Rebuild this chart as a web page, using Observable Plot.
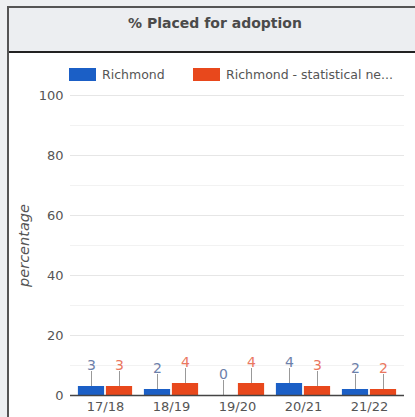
<!DOCTYPE html>
<html>
<head>
<meta charset="utf-8">
<script src="https://cdn.jsdelivr.net/npm/d3@7"></script>
<script src="https://cdn.jsdelivr.net/npm/@observablehq/plot@0.6"></script>
<style>
  html, body { margin: 0; padding: 0; width: 415px; height: 417px; overflow: hidden; background: #eef0f2; font-family: "DejaVu Sans", sans-serif; }
  #panel { position: absolute; left: 7px; top: 6px; width: 420px; height: 420px; border-left: 2px solid #555; border-top: 2px solid #555; background: #fff; }
  #title { height: 43px; background: #eceef1; border-bottom: 2px solid #222; text-align: center; line-height: 31px; font-weight: 700; font-size: 14px; color: #4a4a4a; padding-right: 8px; }
  #legend { position: absolute; left: 0; top: 67px; height: 16px; width: 410px; }
  .item { position: absolute; top: 0; display: flex; align-items: center; font-size: 12.5px; color: #555; white-space: nowrap; }
  .sw { width: 27px; height: 13px; margin-right: 6px; flex: none; }
  #chart { position: absolute; left: 9px; top: 88px; }
  #chart svg [aria-label="y-axis label"] text { font-style: italic; font-size: 14.5px; }
</style>
</head>
<body>
<div id="panel"><div id="title"></div></div>
<div id="legend"></div>
<div id="chart"></div>
<script>
const title = "% Placed for adoption";
const years = ["17/18", "18/19", "19/20", "20/21", "21/22"];
const seriesNames = ["Richmond", "Richmond - statistical neighbours"];
const richmond = [3, 2, 0, 4, 2];
const statNeighbours = [3, 4, 4, 3, 2];
const yTicks = [0, 20, 40, 60, 80, 100];
const yMinor = [10, 30, 50, 70, 90];
const yLabel = "percentage";

const barColors = ["#1b5fc6", "#e8481c"];
const labelColors = ["#6d80aa", "#ea7760"];

document.getElementById("title").textContent = title;

// legend (long names are shortened with "..." as in the reference)
const shorten = (s, n) => s.length > n ? s.slice(0, n) + "..." : s;
const legend = document.getElementById("legend");
const legendLeft = [69, 193];
seriesNames.forEach((name, i) => {
  const item = document.createElement("div");
  item.className = "item";
  item.style.left = legendLeft[i] + "px";
  const sw = document.createElement("span");
  sw.className = "sw";
  sw.style.background = barColors[i];
  const lb = document.createElement("span");
  lb.textContent = shorten(name, 25);
  item.append(sw, lb);
  legend.append(item);
});

const data = [];
years.forEach((y, i) => {
  data.push({year: y, series: seriesNames[0], value: richmond[i], s: 0});
  data.push({year: y, series: seriesNames[1], value: statNeighbours[i], s: 1});
});

const W = 406, H = 329;
const step = (W - 61 - 11) / years.length;
const bw = 27, gap = 1;
const outer = (step - 2 * bw - gap) / 2;
const off = [-(gap / 2 + bw / 2), gap / 2 + bw / 2];

const marks = [
  Plot.ruleY(yMinor, {stroke: "#f2f2f2", strokeWidth: 1}),
  Plot.ruleY(yTicks.filter(d => d > 0), {stroke: "#e6e6e6", strokeWidth: 1}),
  Plot.axisY({ticks: yTicks, tickSize: 0, tickPadding: 7, fontSize: 13, color: "#555",
    label: yLabel, labelAnchor: "center", labelOffset: 52, labelArrow: "none"}),
  Plot.axisX({tickSize: 0, tickPadding: 6, fontSize: 13, color: "#555", label: null}),
];
[0, 1].forEach(s => {
  const d = data.filter(r => r.s === s);
  marks.push(Plot.barY(d, {
    x: "year", y: "value", fill: barColors[s],
    insetLeft: s === 0 ? outer : outer + bw + gap,
    insetRight: s === 0 ? outer + bw + gap : outer
  }));
  marks.push(Plot.ruleX(d, {x: "year", y1: "value", y2: "value", dx: off[s], insetBottom: 15, stroke: "#999", strokeWidth: 1}));
  marks.push(Plot.text(d, {x: "year", y: "value", text: r => String(r.value), dx: off[s], dy: -21, fill: labelColors[s], fontSize: 14}));
});
marks.push(Plot.ruleY([0], {stroke: "#444", strokeWidth: 1.5}));

const chart = Plot.plot({
  width: W, height: H,
  marginLeft: 61, marginRight: 11, marginTop: 7, marginBottom: 22,
  style: {fontFamily: "DejaVu Sans, sans-serif", background: "transparent", overflow: "visible"},
  x: {domain: years, padding: 0, label: null},
  y: {domain: [0, 100], label: yLabel},
  marks
});
document.getElementById("chart").append(chart);
</script>
</body>
</html>
